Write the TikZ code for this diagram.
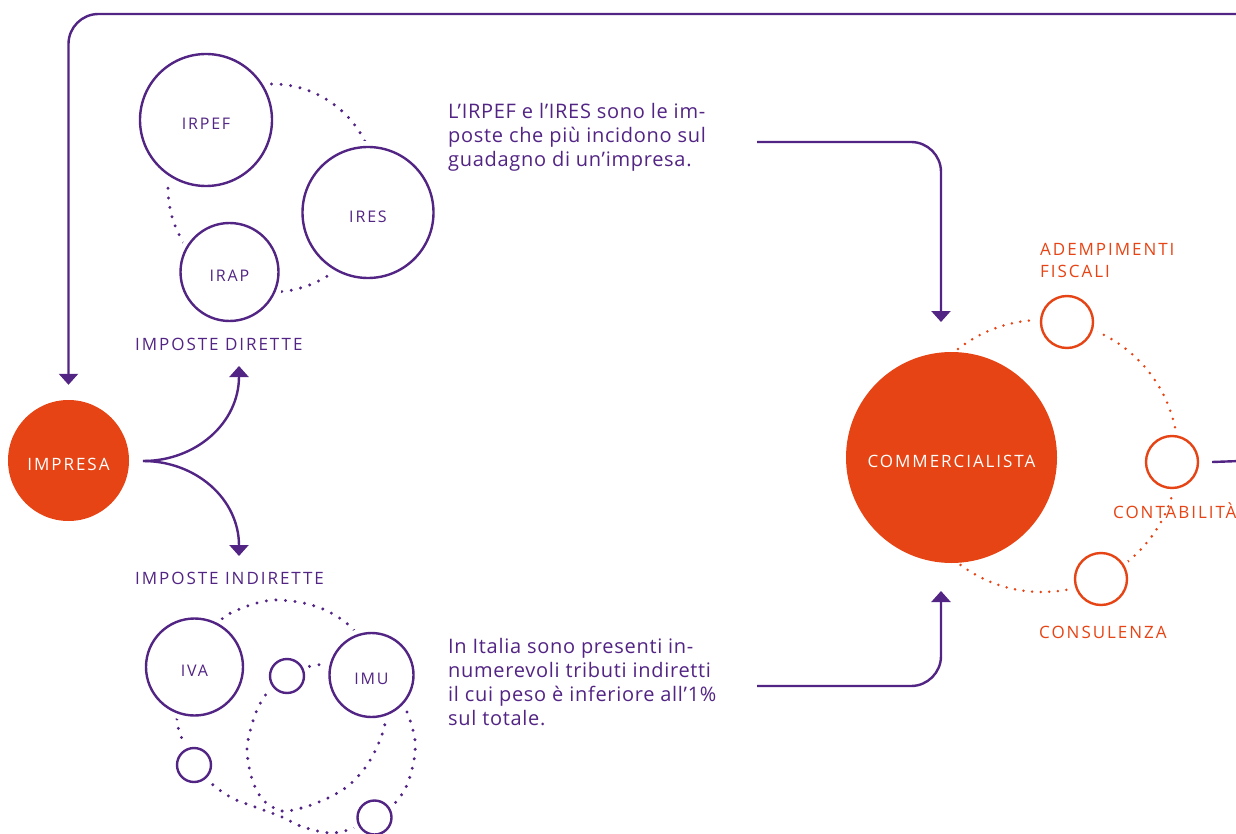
\documentclass[tikz,border=0pt]{standalone}
\usepackage{fontspec}
\setmainfont{Open Sans}[LetterSpace=3.5]
\newfontfamily\lbl{Open Sans}[LetterSpace=11.5]
\usetikzlibrary{arrows.meta}
\definecolor{pur}{RGB}{82,36,132}
\definecolor{org}{RGB}{230,68,20}
\begin{document}
\begin{tikzpicture}[x=1pt,y=-1pt,
  conn/.style={draw=pur, line width=2.4pt, -{Triangle[width=19pt,length=11pt]}, rounded corners=30pt},
  ring/.style={circle, draw=pur, line width=2.4pt, fill=white, inner sep=0pt, minimum size=#1,
               preaction={draw=white, line width=12pt}},
  oring/.style={circle, draw=org, line width=2.4pt, fill=white, inner sep=0pt, minimum size=#1,
               preaction={draw=white, line width=12pt}},
  big/.style={circle, fill=org, inner sep=0pt, minimum size=#1},
  dots/.style={line width=3.3pt, line cap=round, dash pattern=on 0pt off 9.6pt},
  odots/.style={draw=org, line width=2.8pt, line cap=round, dash pattern=on 0pt off 8.6pt},
  ctext/.style={text=pur, font=\lbl\fontsize{16}{18}\selectfont, yshift=-4pt, inner sep=0pt},
  wtext/.style={text=white, font=\lbl\fontsize{17}{19}\selectfont, yshift=-4pt, inner sep=0pt},
  grp/.style={text=pur, font=\lbl\fontsize{17}{19}\selectfont, inner sep=0pt, anchor=base west},
  olab/.style={text=org, font=\lbl\fontsize{17}{21}\selectfont, inner sep=0pt, anchor=base west, align=left},
  para/.style={text=pur, font=\fontsize{20}{24}\selectfont, inner sep=0pt, anchor=north west, align=left}
]
\useasboundingbox (0,0) rectangle (1236,834);

% ---------- dotted guides ----------
\draw[pur, dots] (272,188) circle (104);
\draw[pur, dots] plot[smooth] coordinates {(215,625) (227,615) (242,608) (257,603) (273,600) (291,601) (308,604) (323,609) (338,617) (351,627) (360,638)};
\draw[pur, dots] (300,668) -- (335,662);
\draw[pur, dots] plot[smooth] coordinates {(287,676) (267,693) (255,715) (247,748) (252,779) (263,800) (282,811) (305,807) (328,798) (348,786) (365,768) (377,747) (385,723) (380,700)};
\draw[pur, dots] plot[smooth] coordinates {(180,700) (177,722) (184,744) (194,765) (212,784) (232,798) (255,807) (282,817) (303,827) (331,833) (354,828) (374,817) (395,803) (407,785) (414,760) (415,740) (410,720) (402,700)};
\draw[odots] (1042,456) circle (136);

% ---------- nodes ----------
\node[big=121] (imp) at (68.5,460.5) {};
\node[wtext] at (imp.center) {IMPRESA};

\node[ring=132] (irpef) at (206,120) {};
\node[ctext] at (irpef.center) {IRPEF};
\node[ring=131] (ires) at (368,212.5) {};
\node[ctext] at (ires.center) {IRES};
\node[ring=98] (irap) at (229.5,272) {};
\node[ctext] at (irap.center) {IRAP};
\node[grp] (dir) at (135,350) {IMPOSTE DIRETTE};

\node[grp] (ind) at (135,584) {IMPOSTE INDIRETTE};
\node[ring=97] (iva) at (194.5,667) {};
\node[ctext] at (iva.center) {IVA};
\node[ring=84] (imu) at (371.5,675) {};
\node[ctext] at (imu.center) {IMU};
\node[ring=34] (sa) at (287,676) {};
\node[ring=34] (sb) at (194,765) {};
\node[ring=34] (sc) at (374.5,817.5) {};

\node[para] (p1) at (448,103) {L’IRPEF e l’IRES sono le im-\\poste che più incidono sul\\guadagno di un’impresa.};
\node[para] (p2) at (448,638) {In Italia sono presenti in-\\numerevoli tributi indiretti\\il cui peso è inferiore all’1\%\\sul totale.};

\node[big=211] (comm) at (951.5,457.5) {};
\node[wtext] at (comm.center) {COMMERCIALISTA};

\node[oring=52] (adem) at (1067,322) {};
\node[oring=52] (cont) at (1172,462) {};
\node[oring=52] (cons) at (1101,579) {};
\node[olab] (ademl) at (1040,277) {ADEMPIMENTI\\FISCALI};
\node[olab] (contl) at (1113,518) {CONTABILITÀ};
\node[olab] (consl) at (1039,638) {CONSULENZA};

% ---------- connectors ----------
\coordinate (topR) at (1240,14);
\draw[conn, shorten >=15pt] (topR) -| (imp.north);

\coordinate (split) at (143,461);
\coordinate (tipD) at (239,366);
\coordinate (tipI) at (239,556);
\draw[conn] (split) .. controls (196,461) and (239,423) .. (tipD);
\draw[conn] (split) .. controls (196,461) and (239,499) .. (tipI);

\coordinate (p1out) at (757,142);
\coordinate (cin1) at (941,322);
\draw[conn] (p1out) -| (cin1);
\coordinate (p2out) at (757,686);
\coordinate (cin2) at (941,591);
\draw[conn] (p2out) -| (cin2);

\coordinate (rightR) at (1240,461);
\draw[pur, line width=2.4pt] ([xshift=13pt]cont.east) -- (rightR);
\end{tikzpicture}
\end{document}
